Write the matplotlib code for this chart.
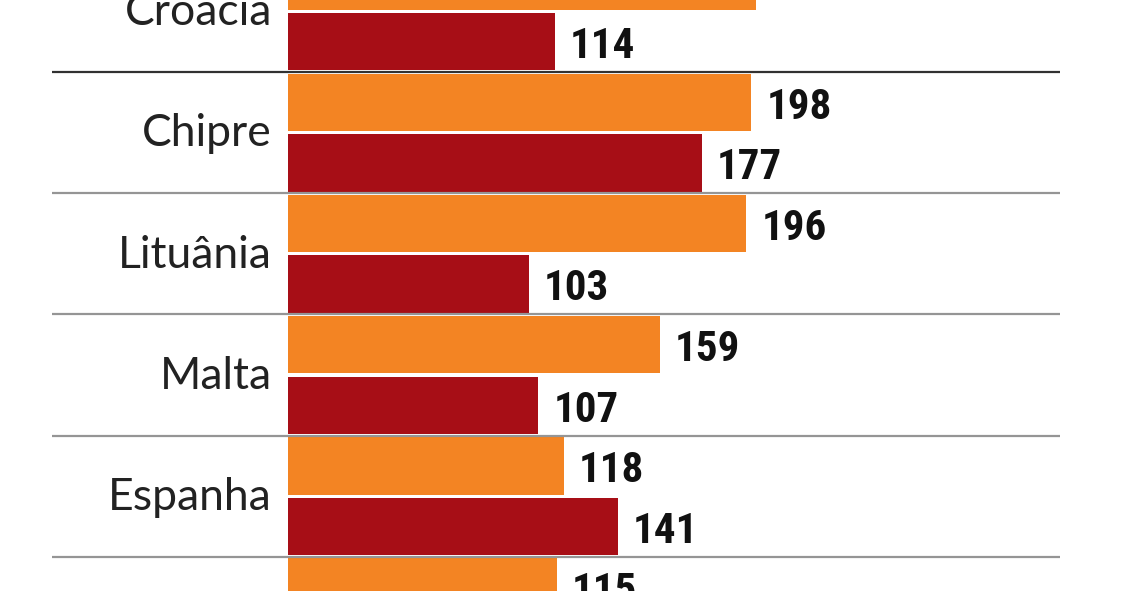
import matplotlib
matplotlib.use("Agg")
import matplotlib.pyplot as plt
import numpy as np

# ---- data (top to bottom) ----
categories = ["Croácia", "Chipre", "Lituânia", "Malta", "Espanha", ""]
series_a = [200, 198, 196, 159, 118, 115]      # orange
series_b = [114, 177, 103, 107, 141, None]     # dark red

ORANGE = "#F38423"
RED = "#A70E16"

W, H = 1128, 591
fig = plt.figure(figsize=(W / 100, H / 100), dpi=100)
ax = fig.add_axes([0, 0, 1, 1])

px_per_unit = 2.338   # horizontal scale
zero_px = 288
group_px = 121.2
first_boundary_px = 72

ax.set_xlim(-zero_px / px_per_unit, (W - zero_px) / px_per_unit)
top = 0.5 - first_boundary_px / group_px
bottom = 0.5 + (H - first_boundary_px) / group_px
ax.set_ylim(bottom, top)
ax.axis("off")

bh = 0.475
off = 0.25

def value_label(v, yy):
    ax.annotate(f"{v}", (v, yy), xytext=(11, -3.5), textcoords="offset points",
                ha="left", va="center", fontsize=31, fontweight="bold",
                family=["Roboto Condensed", "DejaVu Sans"],
                color="#111111")

for i, (cat, a, b) in enumerate(zip(categories, series_a, series_b)):
    if a is not None:
        ax.barh(i - off, a, height=bh, color=ORANGE, zorder=2)
        value_label(a, i - off)
    if b is not None:
        ax.barh(i + off, b, height=bh, color=RED, zorder=2)
        value_label(b, i + off)
    if cat:
        ax.text(-16 / px_per_unit, i + 0.01, cat, ha="right", va="center", fontsize=32,
                family=["Lato", "DejaVu Sans"], color="#222222")

# separators
x0 = (52 - zero_px) / px_per_unit
x1 = (1060 - zero_px) / px_per_unit
for k in range(len(categories) - 1):
    yb = k + 0.5
    col = "#1a1a1a" if k == 0 else "#8a8a8a"
    ax.plot([x0, x1], [yb, yb], color=col, lw=1.6, alpha=0.9, zorder=3,
            solid_capstyle="butt")

fig.savefig("out.png", dpi=100, facecolor="white")
